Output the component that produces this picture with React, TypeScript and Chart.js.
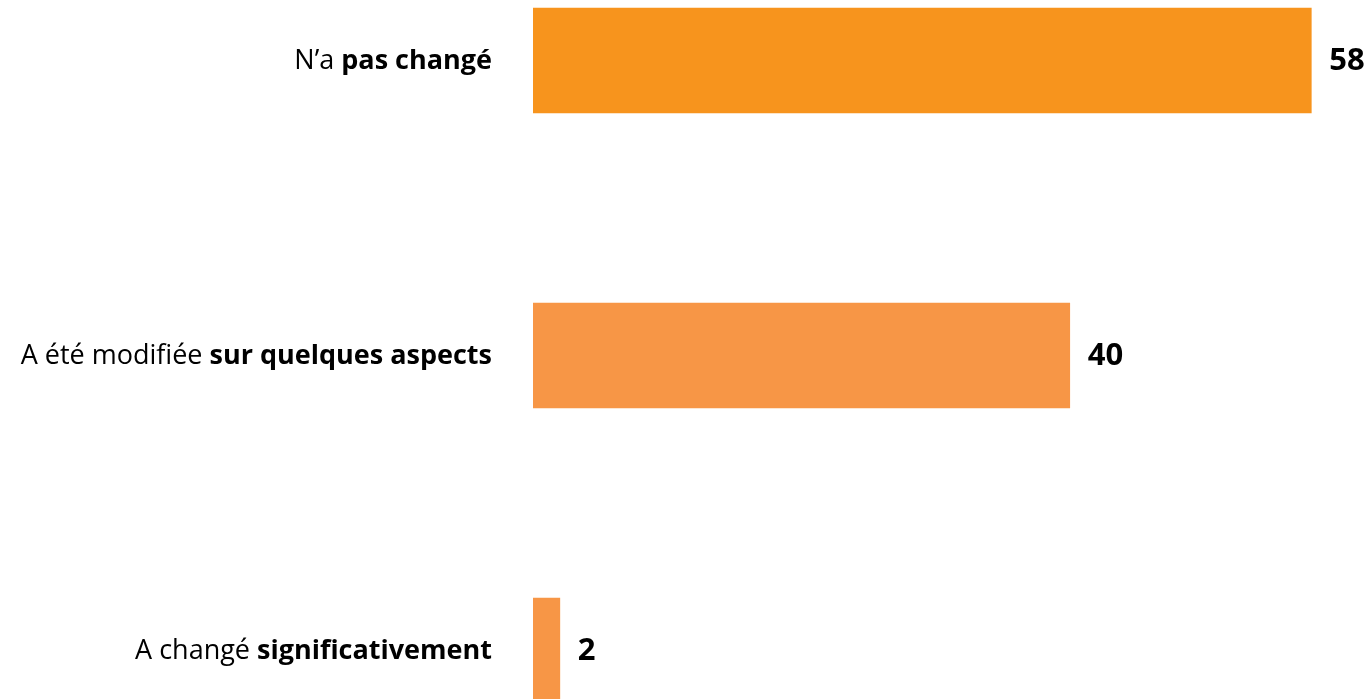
import React, { useEffect, useRef } from "react";
import { Chart, registerables } from "chart.js";

Chart.register(...registerables);

const categories = ["N’a pas changé", "A été modifiée sur quelques aspects", "A changé significativement"];
const labelPlain = ["N’a ", "A été modifiée ", "A changé "];
const labelBold = ["pas changé", "sur quelques aspects", "significativement"];
const values = [58, 40, 2];
const barColors = ["#F7941D", "#F79646", "#F79646"];

const FONT = "'Open Sans', 'Noto Sans', sans-serif";

const labelPlugin = {
  id: "mixedLabels",
  afterDatasetsDraw(chart: any) {
    const ctx = chart.ctx;
    const meta = chart.getDatasetMeta(0);
    ctx.save();
    ctx.textBaseline = "middle";
    ctx.fillStyle = "#000000";
    meta.data.forEach((bar: any, i: number) => {
      const y = bar.y;
      const right = 492;
      ctx.font = `bold 27px ${FONT}`;
      ctx.textAlign = "right";
      const bw = ctx.measureText(labelBold[i]).width;
      ctx.fillText(labelBold[i], right, y + 1);
      ctx.font = `27px ${FONT}`;
      ctx.fillText(labelPlain[i], right - bw, y + 1);
      ctx.font = `bold 31px ${FONT}`;
      ctx.textAlign = "left";
      ctx.fillText(String(values[i]), bar.x + 18, y + 1);
    });
    ctx.restore();
  },
};

export default function App() {
  const ref = useRef<HTMLCanvasElement | null>(null);
  useEffect(() => {
    if (!ref.current) return;
    const chart = new Chart(ref.current, {
      type: "bar",
      data: {
        labels: categories,
        datasets: [
          {
            data: values,
            backgroundColor: barColors,
            borderWidth: 0,
            barThickness: 105,
          },
        ],
      },
      options: {
        indexAxis: "y",
        animation: false,
        responsive: true,
        maintainAspectRatio: false,
        layout: { padding: { left: 533, right: 0, top: 0, bottom: 0 } },
        plugins: { legend: { display: false }, tooltip: { enabled: false } },
        scales: {
          x: { display: false, min: 0, max: 62.3 },
          y: { display: false },
        },
      },
      plugins: [labelPlugin],
    });
    return () => chart.destroy();
  }, []);
  return (
    <div style={{ position: "fixed", left: 0, top: 0, width: 1369, height: 699, overflow: "hidden", background: "#fff" }}>
      <div style={{ position: "absolute", left: 0, top: -87, width: 1369, height: 885 }}>
        <canvas ref={ref} />
      </div>
    </div>
  );
}
